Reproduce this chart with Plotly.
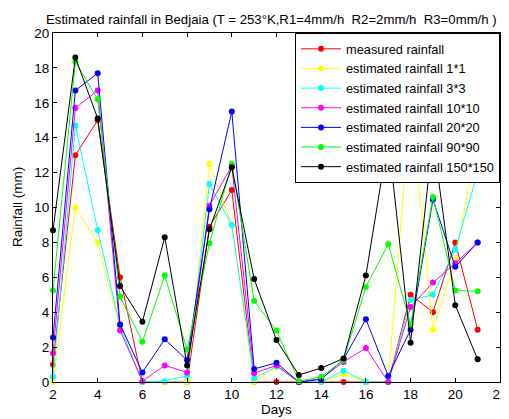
import plotly.graph_objects as go

days = list(range(2, 22))

measured = [1.0, 13.0, 15.0, 6.0, 0, 0, 0, 8.9, 11.0, 0, 0, 0, 0, 0, 0, 0, 5.0, 4.0, 8.0, 3.0]
est_1 = [0, 10.0, 8.0, 3.1, 0, 0, 0, 12.5, 9.0, 0, 0.85, 0, 0, 0.45, 0, 0, 16.0, 3.0, 7.0, 14.0]
est_3 = [0.3, 14.7, 8.7, 3.2, 0, 0.05, 0.35, 11.35, 9.0, 0.2, 0.9, 0, 0, 0.65, 0, 0, 4.7, 5.0, 7.6, 12.0]
est_10 = [1.65, 15.7, 16.7, 2.95, 0.05, 0.95, 0.55, 10.1, 12.4, 0.5, 0.95, 0, 0.2, 1.15, 1.95, 0, 4.3, 5.7, 6.8, 8.0]
est_20 = [2.55, 16.7, 17.7, 3.3, 0.55, 2.45, 1.25, 9.9, 15.5, 0.75, 1.1, 0, 0.15, 1.3, 3.6, 0.35, 3.0, 10.45, 6.6, 8.0]
est_90 = [5.25, 18.35, 16.2, 4.9, 2.3, 6.1, 1.85, 7.95, 12.5, 4.65, 2.95, 0.05, 0.3, 1.25, 5.45, 7.9, 3.3, 10.6, 5.25, 5.2]
est_150 = [8.7, 18.6, 15.1, 5.5, 3.45, 8.3, 0.95, 8.75, 12.3, 5.9, 2.4, 0.4, 0.8, 1.35, 6.1, 14.0, 2.25, 14.0, 4.4, 1.3]

series = [
    ("measured rainfall", measured, "#FF0000"),
    ("estimated rainfall 1*1", est_1, "#FFFF00"),
    ("estimated rainfall 3*3", est_3, "#00FFFF"),
    ("estimated rainfall 10*10", est_10, "#FF00FF"),
    ("estimated rainfall 20*20", est_20, "#0000FF"),
    ("estimated rainfall 90*90", est_90, "#00FF00"),
    ("estimated rainfall 150*150", est_150, "#000000"),
]

fig = go.Figure()
for name, vals, col in series:
    fig.add_trace(go.Scatter(
        x=days, y=vals, name=name, mode="lines+markers",
        line=dict(color=col, width=1),
        marker=dict(color=col, size=6),
        cliponaxis=False,
    ))

font = "Liberation Sans, Arial, sans-serif"
axis_common = dict(
    showgrid=False, zeroline=False, showline=True, linecolor="black", linewidth=1,
    mirror="allticks", ticks="inside", ticklen=4, tickcolor="black",
    tickfont=dict(size=13.5, color="black", family=font),
    automargin=False,
)

# the page adds an 8px body margin, so the figure is sized to fit inside the window
fig.update_layout(
    width=501, height=411,
    margin=dict(l=45, r=9, t=25, b=37),
    paper_bgcolor="white", plot_bgcolor="white",
    font=dict(family=font, size=13.5, color="black"),
    xaxis=dict(range=[2, 22], tickmode="array", tickvals=list(range(2, 23, 2)), **axis_common),
    yaxis=dict(range=[0, 20], tickmode="array", tickvals=list(range(0, 21, 2)), **axis_common),
    legend=dict(x=1, y=1, xanchor="right", yanchor="top", bgcolor="white",
                bordercolor="black", borderwidth=1, font=dict(size=12.8, family=font),
                itemwidth=40, tracegroupgap=0),
    showlegend=True,
    annotations=[
        dict(text="Estimated rainfall in Bedjaia (T = 253°K,R1=4mm/h  R2=2mm/h  R3=0mm/h )",
             xref="paper", yref="paper", x=0.488, y=1.0, xanchor="center", yanchor="bottom",
             yshift=4, showarrow=False, font=dict(size=13.2, family=font, color="black")),
        dict(text="Days", xref="paper", yref="paper", x=0.5, y=0, xanchor="center", yanchor="top",
             yshift=-18, showarrow=False, font=dict(size=13.5, family=font, color="black")),
        dict(text="Rainfall (mm)", xref="paper", yref="paper", x=0, y=0.5, xanchor="right",
             yanchor="middle", xshift=-26, textangle=-90, showarrow=False,
             font=dict(size=13.5, family=font, color="black")),
    ],
)

fig.write_html("out.html")
